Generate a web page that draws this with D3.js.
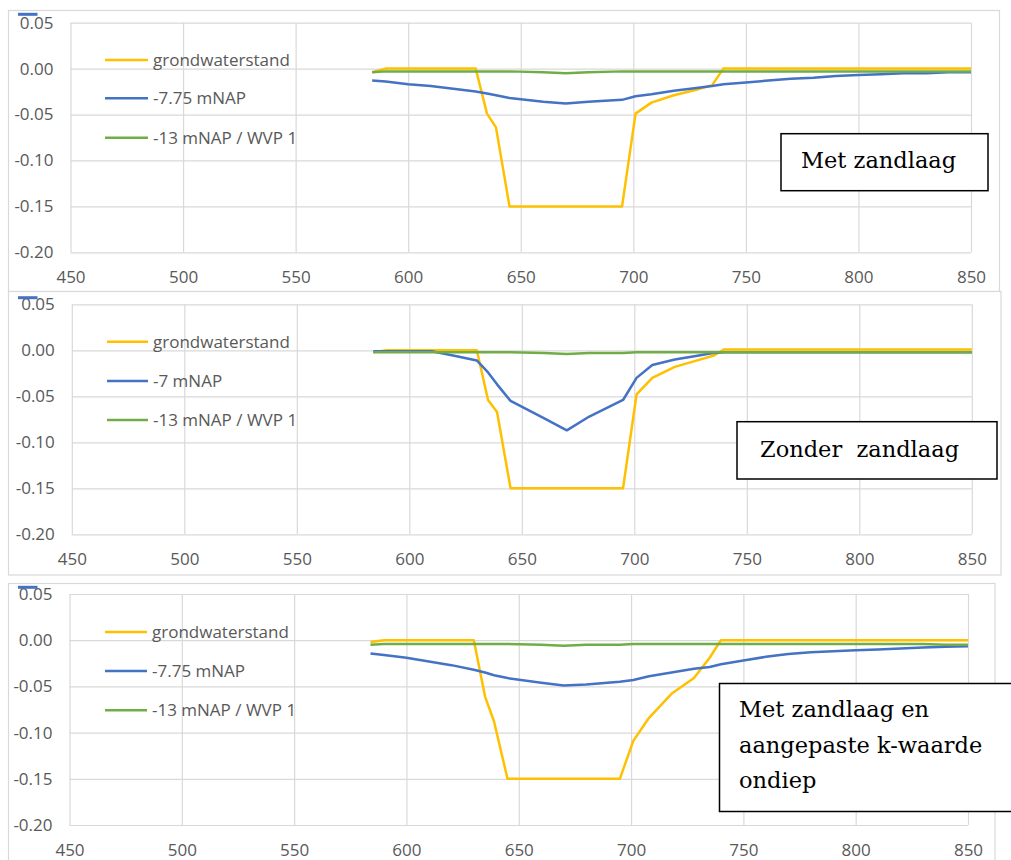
<!DOCTYPE html>
<html><head><meta charset="utf-8">
<script src="https://cdn.jsdelivr.net/npm/d3@7"></script>
<style>
body{margin:0;background:#fff;}
svg{display:block;}
.tick text{font-family:"Open Sans",sans-serif;font-size:17px;fill:#595959;}
.leg{font-family:"Open Sans",sans-serif;font-size:17px;fill:#595959;}
.note{font-family:"DejaVu Serif",serif;font-size:22.5px;fill:#000;white-space:pre;}
</style>
</head><body>
<svg id="c" width="1011" height="860"></svg>
<script>
// ---- data ----
const distance = [584, 590, 600, 610, 620, 630, 635, 639, 645, 660, 670, 680, 695, 701, 708, 718, 728, 735, 740, 750, 760, 770, 780, 790, 800, 810, 820, 830, 840, 850];
const xTicks = [450, 500, 550, 600, 650, 700, 750, 800, 850];
const yTicks = [0.05, 0.00, -0.05, -0.10, -0.15, -0.20];

// panel 1: Met zandlaag
const gw1   = [-0.004, 0, 0, 0, 0, 0, -0.049, -0.064, -0.150, -0.150, -0.150, -0.150, -0.150, -0.049, -0.037, -0.029, -0.023, -0.018, 0, 0, 0, 0, 0, 0, 0, 0, 0, 0, 0, 0];
const peil1 = [-0.013, -0.014, -0.017, -0.019, -0.022, -0.025, -0.027, -0.029, -0.032, -0.036, -0.038, -0.036, -0.034, -0.030, -0.028, -0.024, -0.021, -0.019, -0.017, -0.015, -0.013, -0.011, -0.010, -0.008, -0.007, -0.006, -0.005, -0.005, -0.004, -0.004];
const wvp1  = [-0.004, -0.003, -0.003, -0.003, -0.003, -0.003, -0.003, -0.003, -0.003, -0.004, -0.005, -0.004, -0.003, -0.003, -0.003, -0.003, -0.003, -0.003, -0.003, -0.003, -0.003, -0.003, -0.003, -0.003, -0.003, -0.003, -0.003, -0.003, -0.003, -0.003];

// panel 2: Zonder zandlaag
const gw2   = [-0.002, 0, 0, 0, 0, 0, -0.054, -0.067, -0.150, -0.150, -0.150, -0.150, -0.150, -0.048, -0.030, -0.018, -0.011, -0.006, 0.001, 0.001, 0.001, 0.001, 0.001, 0.001, 0.001, 0.001, 0.001, 0.001, 0.001, 0.001];
const peil2 = [-0.001, -0.001, -0.001, -0.001, -0.006, -0.011, -0.024, -0.037, -0.055, -0.074, -0.087, -0.072, -0.054, -0.030, -0.016, -0.010, -0.006, -0.003, -0.002, -0.002, -0.002, -0.002, -0.002, -0.002, -0.002, -0.002, -0.002, -0.002, -0.002, -0.002];
const wvp2  = [-0.002, -0.002, -0.002, -0.002, -0.002, -0.002, -0.002, -0.002, -0.002, -0.003, -0.004, -0.003, -0.003, -0.002, -0.002, -0.002, -0.002, -0.002, -0.002, -0.002, -0.002, -0.002, -0.002, -0.002, -0.002, -0.002, -0.002, -0.002, -0.002, -0.002];

// panel 3: Met zandlaag en aangepaste k-waarde ondiep
const gw3   = [-0.002, 0, 0, 0, 0, 0, -0.061, -0.088, -0.150, -0.150, -0.150, -0.150, -0.150, -0.109, -0.084, -0.058, -0.041, -0.019, 0, 0, 0, 0, 0, 0, 0, 0, 0, 0, 0, 0];
const peil3 = [-0.0145, -0.016, -0.019, -0.023, -0.027, -0.032, -0.035, -0.038, -0.041, -0.046, -0.049, -0.048, -0.045, -0.043, -0.039, -0.035, -0.031, -0.029, -0.026, -0.022, -0.018, -0.015, -0.013, -0.012, -0.011, -0.010, -0.009, -0.008, -0.007, -0.0065];
const wvp3  = [-0.005, -0.004, -0.004, -0.004, -0.004, -0.004, -0.004, -0.004, -0.004, -0.005, -0.006, -0.005, -0.005, -0.004, -0.004, -0.004, -0.004, -0.004, -0.004, -0.004, -0.004, -0.004, -0.004, -0.004, -0.004, -0.004, -0.004, -0.004, -0.005, -0.005];

const legend1 = ["grondwaterstand", "-7.75 mNAP", "-13 mNAP / WVP 1"];
const legend2 = ["grondwaterstand", "-7 mNAP", "-13 mNAP / WVP 1"];
const legend3 = ["grondwaterstand", "-7.75 mNAP", "-13 mNAP / WVP 1"];

const note1 = ["Met zandlaag"];
const note2 = ["Zonder  zandlaag"];
const note3 = ["Met zandlaag en", "aangepaste k-waarde", "ondiep"];

const colors = ["#FFC000", "#4472C4", "#70AD47"];

// ---- layout ----
const panels = [
  {frame:[8.5,10.5,991,281], xr:[70.5,971], yr:[22.7,252.3], series:[gw1,peil1,wvp1], names:legend1,
   legY:[60,98.3,137.7], legX:[105,148], box:[781,133.7,207,57], noteX:801, noteY:[168.3], dashY:14.3, note:note1},
  {frame:[8.5,291.5,992.5,283.5], xr:[71.8,971.8], yr:[304.3,534.3], series:[gw2,peil2,wvp2], names:legend2,
   legY:[341.7,381,420], legX:[107,148], box:[737,421.7,260,57.3], noteX:760, noteY:[456.7], dashY:297.7, note:note2},
  {frame:[8.5,583.5,986.5,300], xr:[69.5,968], yr:[594,825], series:[gw3,peil3,wvp3], names:legend3,
   legY:[632,671,710.3], legX:[105,147], box:[719.5,683.5,320,128], noteX:739, noteY:[717.3,753.3,788.3], dashY:587.3, note:note3}
];

const svg = d3.select("#c");

panels.forEach(p => {
  const g = svg.append("g");
  g.append("rect").attr("x",p.frame[0]).attr("y",p.frame[1]).attr("width",p.frame[2]).attr("height",p.frame[3])
    .attr("fill","#fff").attr("stroke","#d9d9d9").attr("stroke-width",1.2);

  const x = d3.scaleLinear().domain([450,850]).range(p.xr);
  const y = d3.scaleLinear().domain([0.05,-0.20]).range(p.yr);
  const w = p.xr[1]-p.xr[0], h = p.yr[1]-p.yr[0];

  const xa = g.append("g").attr("transform",`translate(0,${p.yr[1]})`)
    .call(d3.axisBottom(x).tickValues(xTicks).tickSize(-h).tickPadding(19).tickFormat(d3.format("d")));
  const ya = g.append("g").attr("transform",`translate(${p.xr[0]},0)`)
    .call(d3.axisLeft(y).tickValues(yTicks).tickSize(-w).tickPadding(17).tickFormat(d3.format(".2f")));
  [xa,ya].forEach(a => {
    a.select(".domain").remove();
    a.selectAll(".tick line").attr("stroke","#d9d9d9").attr("stroke-width",1.2);
  });
  ya.selectAll(".tick text").text(d => d3.format(".2f")(d).replace("−","-"));

  // small blue dash at top-left
  g.append("line").attr("x1",18).attr("x2",37.5).attr("y1",p.dashY).attr("y2",p.dashY)
    .attr("stroke","#4472C4").attr("stroke-width",3);

  const line = d3.line().x((d,i)=>x(distance[i])).y(d=>y(d));
  p.series.forEach((s,i) => {
    g.append("path").datum(s).attr("d",line).attr("fill","none")
      .attr("stroke",colors[i]).attr("stroke-width",2.5).attr("stroke-linejoin","round");
  });

  // legend
  p.names.forEach((n,i) => {
    g.append("line").attr("x1",p.legX[0]).attr("x2",p.legX[1]).attr("y1",p.legY[i]).attr("y2",p.legY[i])
      .attr("stroke",colors[i]).attr("stroke-width",2.5);
    g.append("text").attr("class","leg").attr("x",p.legX[1]+5).attr("y",p.legY[i]).attr("dy","0.35em").text(n);
  });

  // annotation box
  g.append("rect").attr("x",p.box[0]).attr("y",p.box[1]).attr("width",p.box[2]).attr("height",p.box[3])
    .attr("fill","#fff").attr("stroke","#000").attr("stroke-width",1.5);
  p.note.forEach((t,i) => {
    g.append("text").attr("class","note").attr("x",p.noteX).attr("y",p.noteY[i]).text(t);
  });
});
</script>
</body></html>
